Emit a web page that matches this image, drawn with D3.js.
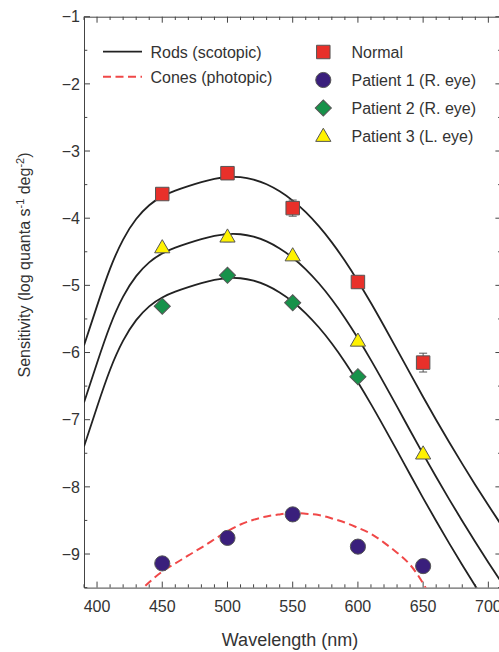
<!DOCTYPE html>
<html>
<head>
<meta charset="utf-8">
<script src="https://cdn.jsdelivr.net/npm/d3@7"></script>
<style>
  html, body { margin: 0; padding: 0; background: #fff; }
  svg text { font-family: "Liberation Sans", Arial, sans-serif; fill: #333; }
</style>
</head>
<body>
<svg id="chart" width="499" height="652"></svg>
<script>
// Scotopic (rod) spectral sensitivity template, log relative quantal sensitivity
const rodWavelengths = [390,400,410,420,430,440,450,460,470,480,490,500,510,520,530,540,550,
  560,570,580,590,600,610,620,630,640,650,660,670,680,690,700,710];
const rodTemplate = [-2.51,-1.92,-1.366,-0.933,-0.628,-0.422,-0.290,-0.204,-0.137,-0.077,-0.029,-0.002,
  -0.004,-0.040,-0.110,-0.215,-0.353,-0.526,-0.734,-0.975,-1.250,-1.553,-1.878,-2.220,-2.571,
  -2.926,-3.277,-3.619,-3.951,-4.273,-4.586,-4.890,-5.185];
// Peak log sensitivity of each fitted rod curve (Normal, Patient 3, Patient 2)
const rodCurveLevels = [-3.385, -4.235, -4.89];

// Photopic (cone) curve fitted to Patient 1
const coneWavelengths = [430,440,450,460,470,480,490,500,510,520,530,540,550,560,570,580,590,600,
  610,620,630,640,650,660];
const coneCurve = [-9.60,-9.42,-9.26,-9.14,-9.02,-8.905,-8.78,-8.66,-8.56,-8.49,-8.44,-8.41,-8.39,
  -8.40,-8.42,-8.47,-8.53,-8.61,-8.70,-8.83,-8.98,-9.16,-9.44,-9.80];

// Measured thresholds
const testWavelengths = [450, 500, 550, 600, 650];
const normal = [-3.64, -3.33, -3.85, -4.95, -6.15];
const normalErr = [0.04, 0.04, 0.12, 0.09, 0.14];
const patient1 = [-9.14, -8.76, -8.41, -8.89, -9.18];
const patient2 = [-5.31, -4.85, -5.26, -6.36];
const patient3 = [-4.45, -4.29, -4.57, -5.84, -7.52];
const patient3Err = [0, 0.06, 0, 0, 0];

const xTicks = [400, 450, 500, 550, 600, 650, 700];
const yTicks = [-9, -8, -7, -6, -5, -4, -3, -2, -1];

const svg = d3.select("#chart");
const plotLeft = 84, plotRight = 501.4, plotTop = 16.7, plotBottom = 587.6;

const x = d3.scaleLinear().domain([390, 710]).range([plotLeft, plotRight]);
const y = d3.scaleLinear().domain([-9.5, -1]).range([plotBottom, plotTop]);

const axisColor = "#444";
const yFormat = d3.format("d");

svg.append("defs").append("clipPath").attr("id", "plotClip")
  .append("rect").attr("x", plotLeft).attr("y", plotTop)
  .attr("width", plotRight - plotLeft).attr("height", plotBottom - plotTop);

// Axes: ticks pointing inward on all four sides
const minorX = d3.range(390, 711, 10).filter(v => v % 50 !== 0);
const minorY = d3.range(-9.5, -0.99, 0.5).filter(v => Math.abs(v % 1) > 0.01);

function xAxisGen(major, minor, dir) {
  return g => {
    g.call(d3.axisBottom(x).tickValues(major).tickSize(0).tickFormat(""));
    g.select(".domain").attr("stroke", axisColor);
    g.selectAll(".maj").data(major).join("line").attr("class", "maj")
      .attr("x1", d => x(d)).attr("x2", d => x(d)).attr("y1", 0).attr("y2", dir * 6)
      .attr("stroke", axisColor);
    g.selectAll(".min").data(minor).join("line").attr("class", "min")
      .attr("x1", d => x(d)).attr("x2", d => x(d)).attr("y1", 0).attr("y2", dir * 3.3)
      .attr("stroke", axisColor);
  };
}
function yAxisGen(major, minor, dir) {
  return g => {
    g.call(d3.axisLeft(y).tickValues(major).tickSize(0).tickFormat(""));
    g.select(".domain").attr("stroke", axisColor);
    g.selectAll(".maj").data(major).join("line").attr("class", "maj")
      .attr("y1", d => y(d)).attr("y2", d => y(d)).attr("x1", 0).attr("x2", dir * 6)
      .attr("stroke", axisColor);
    g.selectAll(".min").data(minor).join("line").attr("class", "min")
      .attr("y1", d => y(d)).attr("y2", d => y(d)).attr("x1", 0).attr("x2", dir * 3.3)
      .attr("stroke", axisColor);
  };
}

svg.append("g").attr("transform", `translate(0,${plotBottom})`).call(xAxisGen(xTicks, minorX, -1));
svg.append("g").attr("transform", `translate(0,${plotTop})`).call(xAxisGen(xTicks, minorX, 1));
svg.append("g").attr("transform", `translate(${plotLeft},0)`).call(yAxisGen(yTicks, minorY, 1));
svg.append("g").attr("transform", `translate(${plotRight},0)`).call(yAxisGen(yTicks, minorY, -1));

// Tick labels
svg.append("g").selectAll("text").data(xTicks).join("text")
  .attr("x", d => x(d)).attr("y", 612).attr("text-anchor", "middle")
  .attr("font-size", 16).text(d => d);
svg.append("g").selectAll("text").data(yTicks).join("text")
  .attr("x", 80).attr("y", d => y(d) + 5.7).attr("text-anchor", "end")
  .attr("font-size", 16).text(d => yFormat(d));

// Axis titles
svg.append("text").attr("x", 290).attr("y", 646).attr("text-anchor", "middle")
  .attr("font-size", 18).text("Wavelength (nm)");
const yt = svg.append("text").attr("transform", "translate(30,265) rotate(-90)")
  .attr("text-anchor", "middle").attr("font-size", 16);
yt.append("tspan").text("Sensitivity (log quanta s");
yt.append("tspan").attr("dy", -6.5).attr("font-size", 11).text("-1");
yt.append("tspan").attr("dy", 6.5).text(" deg");
yt.append("tspan").attr("dy", -6.5).attr("font-size", 11).text("-2");
yt.append("tspan").attr("dy", 6.5).text(")");

// Curves
const plot = svg.append("g").attr("clip-path", "url(#plotClip)");
const line = d3.line().x(d => x(d[0])).y(d => y(d[1])).curve(d3.curveNatural);

rodCurveLevels.forEach(level => {
  plot.append("path")
    .datum(rodWavelengths.map((w, i) => [w, rodTemplate[i] + level]))
    .attr("d", line).attr("fill", "none")
    .attr("stroke", "#222").attr("stroke-width", 1.8);
});

plot.append("path")
  .datum(coneWavelengths.map((w, i) => [w, coneCurve[i]]))
  .attr("d", line).attr("fill", "none")
  .attr("stroke", "#f04848").attr("stroke-width", 2)
  .attr("stroke-dasharray", "8,4.5");

// Error bars
function errorBars(values, errs) {
  const g = plot.append("g").attr("stroke", "#555").attr("stroke-width", 1);
  values.forEach((v, i) => {
    const e = errs[i];
    if (!e) return;
    const cx = x(testWavelengths[i]);
    g.append("line").attr("x1", cx).attr("x2", cx).attr("y1", y(v + e)).attr("y2", y(v - e));
    g.append("line").attr("x1", cx - 4).attr("x2", cx + 4).attr("y1", y(v + e)).attr("y2", y(v + e));
    g.append("line").attr("x1", cx - 4).attr("x2", cx + 4).attr("y1", y(v - e)).attr("y2", y(v - e));
  });
}
errorBars(normal, normalErr);
errorBars(patient3, patient3Err);

// Marker styles
const markers = {
  square:   { path: d3.symbol(d3.symbolSquare, 182)(), rot: 0, fill: "#e8302a" },
  circle:   { path: d3.symbol(d3.symbolCircle, 180)(), rot: 0, fill: "#3a1f7c" },
  diamond:  { path: d3.symbol(d3.symbolSquare, 130)(), rot: 45, fill: "#17924a" },
  triangle: { path: d3.symbol(d3.symbolTriangle, 100)(), rot: 0, fill: "#fff200" }
};

function drawMarkers(values, kind) {
  const m = markers[kind];
  plot.append("g").selectAll("path").data(values).join("path")
    .attr("d", m.path)
    .attr("transform", (d, i) => `translate(${x(testWavelengths[i])},${y(d)}) rotate(${m.rot})`)
    .attr("fill", m.fill).attr("stroke", "#555").attr("stroke-width", 1);
}
drawMarkers(patient1, "circle");
drawMarkers(patient2, "diamond");
drawMarkers(patient3, "triangle");
drawMarkers(normal, "square");

// Legend: curves
const curveLegend = [
  { label: "Rods (scotopic)", color: "#222", dash: null, w: 1.8 },
  { label: "Cones (photopic)", color: "#f04848", dash: "8,4.5", w: 2 }
];
curveLegend.forEach((d, i) => {
  const ly = 51.7 + i * 25;
  svg.append("line").attr("x1", 103).attr("x2", 142).attr("y1", ly).attr("y2", ly)
    .attr("stroke", d.color).attr("stroke-width", d.w)
    .attr("stroke-dasharray", d.dash);
  svg.append("text").attr("x", 150.5).attr("y", ly + 6).attr("font-size", 16).text(d.label);
});

// Legend: symbols
const symbolLegend = [
  { label: "Normal", kind: "square" },
  { label: "Patient 1 (R. eye)", kind: "circle" },
  { label: "Patient 2 (R. eye)", kind: "diamond" },
  { label: "Patient 3 (L. eye)", kind: "triangle" }
];
symbolLegend.forEach((d, i) => {
  const ly = 52 + i * 28;
  const m = markers[d.kind];
  svg.append("path").attr("d", m.path)
    .attr("transform", `translate(323.3,${ly + (d.kind === "triangle" ? 1 : 0)}) rotate(${m.rot})`)
    .attr("fill", m.fill).attr("stroke", "#555").attr("stroke-width", 1);
  svg.append("text").attr("x", 351.5).attr("y", ly + 6).attr("font-size", 16).text(d.label);
});
</script>
</body>
</html>
